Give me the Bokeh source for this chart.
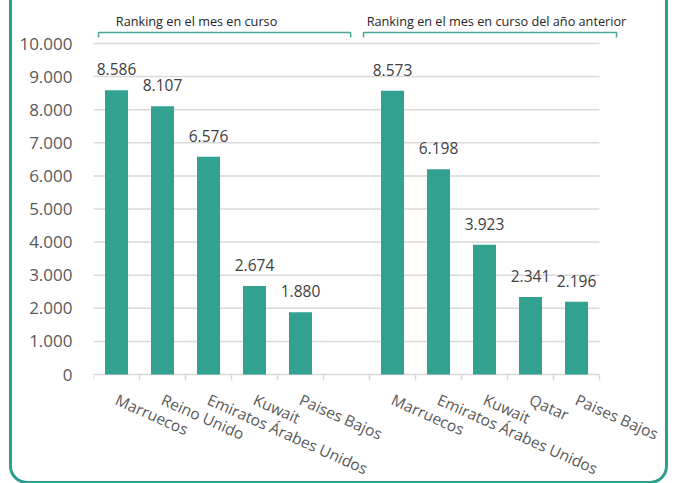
from bokeh.plotting import figure
from bokeh.models import ColumnDataSource, FixedTicker, Range1d
from bokeh.core.properties import value
from bokeh.embed import file_html
from bokeh.resources import INLINE

# ---- data ----
current_countries = ["Marruecos", "Reino Unido", "Emiratos Árabes Unidos", "Kuwait", "Paises Bajos"]
current_values = [8586, 8107, 6576, 2674, 1880]
previous_countries = ["Marruecos", "Emiratos Árabes Unidos", "Kuwait", "Qatar", "Paises Bajos"]
previous_values = [8573, 6198, 3923, 2341, 2196]
group_titles = ["Ranking en el mes en curso", "Ranking en el mes en curso del año anterior"]
y_ticks = [0, 1000, 2000, 3000, 4000, 5000, 6000, 7000, 8000, 9000, 10000]

TEAL = "#33a190"
GRID = "#d9d9d9"
TXT = "#595959"
FONT = "Open Sans"

# positions: group 1 at 0..4, blank slot at 5, group 2 at 6..10
xs = list(range(len(current_values))) + [len(current_values) + 1 + i for i in range(len(previous_values))]
vals = current_values + previous_values
names = current_countries + previous_countries


def fmt(v):
    return f"{v:,}".replace(",", ".")


src = ColumnDataSource(dict(x=xs, top=vals, label=[fmt(v) for v in vals], name=names))

n_slots = len(current_values) + 1 + len(previous_values)
x_left = -0.5
x_right = n_slots - 0.5

PX = 0.0331  # pixels per data unit (vertical)
css = """
:host { position: relative; }
:host::after {
  content: "";
  position: absolute;
  left: 9px; right: 8px; top: -40px; bottom: -1px;
  border: 3px solid #2e9e8e;
  border-radius: 18px;
  box-sizing: border-box;
  pointer-events: none;
}
"""

p = figure(width=676, height=483, output_backend="svg", toolbar_location=None,
           x_range=Range1d(-0.5, -0.5 + 573 / 46), y_range=Range1d(-109 / PX, 364 / PX),
           x_axis_location=None,
           min_border_left=93, min_border_right=10, min_border_top=10, min_border_bottom=0,
           stylesheets=[css])
p.outline_line_color = None
p.background_fill_color = "white"
p.border_fill_color = "white"
p.xgrid.visible = False
p.ygrid.visible = False

# gridlines (and the baseline at 0)
p.segment(x0=[x_left] * len(y_ticks), x1=[x_right] * len(y_ticks), y0=y_ticks, y1=y_ticks,
          line_color=GRID, line_width=1.5)
# category-boundary ticks below the baseline
bounds = [x_left + i for i in range(n_slots + 1)]
p.segment(x0=bounds, x1=bounds, y0=[0] * len(bounds), y1=[-6 / PX] * len(bounds),
          line_color=GRID, line_width=1.5)

# bars and value labels
p.vbar(x="x", top="top", width=0.5, bottom=0, source=src, fill_color=TEAL, line_color=None)
p.text(x="x", y="top", text="label", source=src, text_align="center", text_baseline="alphabetic",
       y_offset=-21, text_font=value(FONT), text_font_size="15.5px", text_color="#404040")

# category labels (rotated)
p.text(x="x", y=-24 / PX, text="name", source=src, angle=-0.42, text_align="left",
       text_baseline="middle", text_font=value(FONT), text_font_size="15.5px", text_color=TXT)

# group brackets
br = [(-0.39, 5.09), (5.37, 10.87)]
br_y = 342 / PX
br_tick = 5 / PX
for (a, b) in br:
    p.line(x=[a, a, b, b], y=[br_y - br_tick, br_y, br_y, br_y - br_tick], line_color="#4aa89a", line_width=1.5)
p.text(x=[1.74, 8.26], y=[354 / PX, 354 / PX], text=group_titles, text_align="center", text_baseline="middle",
       text_font=value(FONT), text_font_size="12.7px", text_color="#262626")

# y axis
p.yaxis.ticker = FixedTicker(ticks=y_ticks)
p.yaxis.major_label_overrides = {t: fmt(t) for t in y_ticks}
p.yaxis.axis_line_color = None
p.yaxis.major_tick_line_color = None
p.yaxis.minor_tick_line_color = None
p.yaxis.major_tick_out = 0
p.yaxis.major_label_standoff = 21
p.yaxis.major_label_text_font = FONT
p.yaxis.major_label_text_font_size = "17px"
p.yaxis.major_label_text_color = TXT

open("out.html", "w").write(file_html(p, INLINE))
